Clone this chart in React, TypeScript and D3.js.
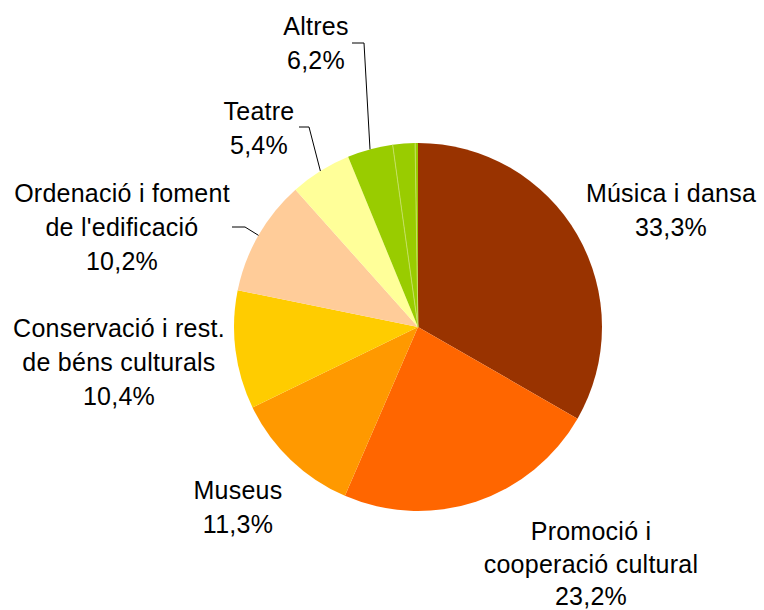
import React from "react";
import * as d3 from "d3";

// ---- data ----
const categories = [
  "Música i dansa",
  "Promoció i cooperació cultural",
  "Museus",
  "Conservació i rest. de béns culturals",
  "Ordenació i foment de l'edificació",
  "Teatre",
  "Altres",
];
const values = [33.3, 23.2, 11.3, 10.4, 10.2, 5.4, 6.2];
// "Altres" is drawn as several small green sub-slices
const altresParts = [4.0, 1.95, 0.25];
const labelLines = [
  ["Música i dansa"],
  ["Promoció i", "cooperació cultural"],
  ["Museus"],
  ["Conservació i rest.", "de béns culturals"],
  ["Ordenació i foment", "de l'edificació"],
  ["Teatre"],
  ["Altres"],
];

// ---- styles / layout ----
const colors = ["#993300", "#FF6600", "#FF9900", "#FFCC00", "#FFCC99", "#FFFF99", "#99CC00"];
const W = 764;
const H = 610;
const CX = 418;
const CY = 327;
const R = 184;
const FONT = "'Liberation Sans', Arial, Helvetica, sans-serif";
const FS = 25;
const LH = 34;
// label block: center x, first baseline y, line height, optional leader (elbow x, elbow y, end x)
const labelLayout: { x: number; y: number; lh: number; leader?: [number, number, number] }[] = [
  { x: 671, y: 202, lh: LH },
  { x: 591, y: 540, lh: 32.5 },
  { x: 238, y: 499, lh: LH },
  { x: 119, y: 337, lh: LH },
  { x: 122, y: 202, lh: LH, leader: [245, 227, 232] },
  { x: 259, y: 120, lh: LH, leader: [309, 127, 299] },
  { x: 316, y: 35, lh: LH, leader: [364, 43, 352] },
];

type Slice = { cat: number; sub: number; value: number };

export default function App() {
  const slices: Slice[] = [];
  values.forEach((v, i) => {
    if (i === values.length - 1) {
      altresParts.forEach((p, j) => slices.push({ cat: i, sub: j, value: p }));
    } else {
      slices.push({ cat: i, sub: 0, value: v });
    }
  });

  const pie = d3
    .pie<Slice>()
    .sort(null)
    .value((d) => d.value)
    .startAngle(0)
    .endAngle(2 * Math.PI);
  const arcs = pie(slices);
  const arc = d3.arc<d3.PieArcDatum<Slice>>().innerRadius(0).outerRadius(R);
  const edge = d3.arc<d3.PieArcDatum<Slice>>().innerRadius(R).outerRadius(R);

  const fmt = (v: number) => v.toFixed(1).replace(".", ",") + "%";

  // green separators between Altres sub-slices
  const greenArcs = arcs.filter((a) => a.data.cat === values.length - 1);
  const seps = greenArcs.slice(1).map((a) => a.startAngle);

  return (
    <svg
      width={W}
      height={H}
      style={{ position: "absolute", left: 0, top: 0, display: "block" }}
    >
      <rect width={W} height={H} fill="#ffffff" />
      <g transform={`translate(${CX},${CY})`}>
        {arcs.map((a, i) => (
          <path key={i} d={arc(a) || ""} fill={colors[a.data.cat]} stroke="none" />
        ))}
        {seps.map((ang, i) => (
          <line
            key={i}
            x1={0}
            y1={0}
            x2={R * Math.sin(ang)}
            y2={-R * Math.cos(ang)}
            stroke="#c4e060"
            strokeWidth={1}
          />
        ))}
      </g>
      {categories.map((c, i) => {
        const lay = labelLayout[i];
        const lines = [...labelLines[i], fmt(values[i])];
        // leader goes to the first arc of this category
        const a = arcs.find((d) => d.data.cat === i)!;
        const [ex, ey] = edge.centroid(a);
        return (
          <g key={c}>
            {lay.leader && (
              <polyline
                points={`${CX + ex},${CY + ey} ${lay.leader[0]},${lay.leader[1]} ${lay.leader[2]},${lay.leader[1]}`}
                fill="none"
                stroke="#000"
                strokeWidth={1}
              />
            )}
            <text
              x={lay.x}
              y={lay.y}
              textAnchor="middle"
              fontFamily={FONT}
              fontSize={FS}
              letterSpacing={0.25}
              fill="#000"
            >
              {lines.map((l, k) => (
                <tspan key={k} x={lay.x} y={lay.y + k * lay.lh}>
                  {l}
                </tspan>
              ))}
            </text>
          </g>
        );
      })}
    </svg>
  );
}
